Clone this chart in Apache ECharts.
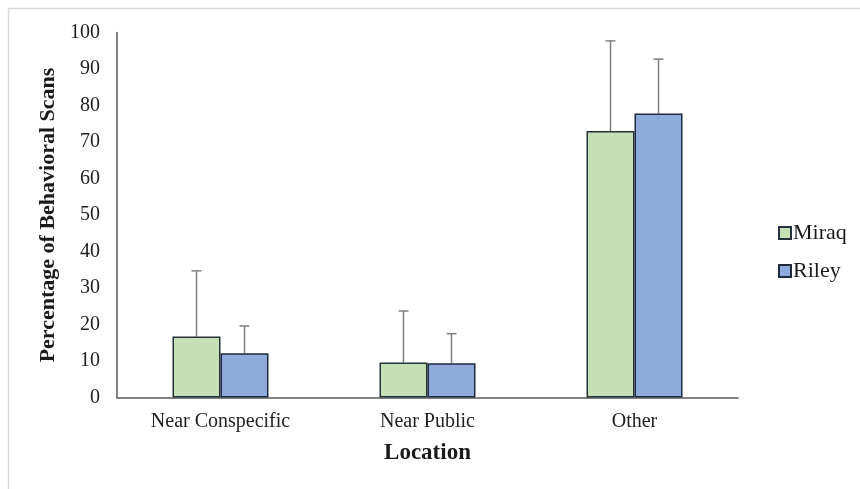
<!DOCTYPE html>
<html>
<head>
<meta charset="utf-8">
<script src="https://cdn.jsdelivr.net/npm/echarts@6/dist/echarts.min.js"></script>
<style>
  html, body { margin: 0; padding: 0; background: #fff; }
  #chart { width: 860px; height: 489px; }
</style>
</head>
<body>
<div id="chart"></div>
<script>
// Location categories and percentage of behavioral scans per animal
const categories = ['Near Conspecific', 'Near Public', 'Other'];
const miraqValues = [16.7, 9.6, 73.0];
const miraqErrors = [18.0, 14.1, 24.7];
const rileyValues = [12.1, 9.4, 77.8];
const rileyErrors = [7.5, 8.1, 14.9];
const yTicks = [0, 10, 20, 30, 40, 50, 60, 70, 80, 90, 100];

const FONT = '"Liberation Serif", "Times New Roman", serif';
const BAR_W = 48;

function errorSeries(name, values, errors, offset) {
  return {
    type: 'custom',
    name: name + ' error',
    silent: true,
    z: 1,
    data: values.map((v, i) => [i, v, v + errors[i]]),
    renderItem: function (params, api) {
      const base = api.coord([api.value(0), api.value(1)]);
      const top = api.coord([api.value(0), api.value(2)]);
      const x = base[0] + offset;
      const style = { stroke: '#7f7f7f', lineWidth: 1.5 };
      return {
        type: 'group',
        children: [
          { type: 'line', shape: { x1: x, y1: base[1], x2: x, y2: top[1] }, style },
          { type: 'line', shape: { x1: x - 5, y1: top[1], x2: x + 5, y2: top[1] }, style }
        ]
      };
    }
  };
}

const chart = echarts.init(document.getElementById('chart'), null, { renderer: 'canvas' });
chart.setOption({
  backgroundColor: '#ffffff',
  animation: false,
  textStyle: { fontFamily: FONT },
  graphic: [{
    type: 'rect',
    shape: { x: 8.5, y: 8.5, width: 900, height: 600 },
    style: { fill: 'none', stroke: '#d9d9d9', lineWidth: 1.5 },
    silent: true,
    z: -10
  }],
  grid: { left: 117, top: 32.5, width: 621, height: 365, containLabel: false },
  legend: {
    orient: 'vertical',
    left: 773,
    top: 217,
    itemWidth: 12,
    itemHeight: 12,
    itemGap: 16,
    icon: 'rect',
    textStyle: { fontFamily: FONT, fontSize: 22, color: '#1a1a1a', padding: [0, 0, 0, -3] },
    data: ['Miraq', 'Riley']
  },
  xAxis: {
    type: 'category',
    data: categories,
    name: 'Location',
    nameLocation: 'middle',
    nameGap: 44,
    nameTextStyle: { fontFamily: FONT, fontSize: 23, fontWeight: 'bold', color: '#1a1a1a' },
    axisLine: { lineStyle: { color: '#595959', width: 1.5 } },
    axisTick: { show: false },
    axisLabel: { fontFamily: FONT, fontSize: 20, color: '#222', margin: 14 }
  },
  yAxis: {
    type: 'value',
    min: yTicks[0],
    max: yTicks[yTicks.length - 1],
    interval: 10,
    name: 'Percentage of Behavioral Scans',
    nameLocation: 'middle',
    nameGap: 58,
    nameTextStyle: { fontFamily: FONT, fontSize: 22, fontWeight: 'bold', color: '#1a1a1a' },
    axisLine: { show: true, lineStyle: { color: '#595959', width: 1.5 } },
    axisTick: { show: false },
    splitLine: { show: false },
    axisLabel: { fontFamily: FONT, fontSize: 20, color: '#222', margin: 17 }
  },
  series: [
    {
      name: 'Miraq',
      type: 'bar',
      data: miraqValues,
      barWidth: BAR_W,
      barGap: '0%',
      z: 2,
      itemStyle: { color: '#c5e0b4', borderColor: '#27313b', borderWidth: 1.5 }
    },
    {
      name: 'Riley',
      type: 'bar',
      data: rileyValues,
      barWidth: BAR_W,
      barGap: '0%',
      z: 2,
      itemStyle: { color: '#8faadc', borderColor: '#1f2a3c', borderWidth: 1.5 }
    },
    errorSeries('Miraq', miraqValues, miraqErrors, -BAR_W / 2),
    errorSeries('Riley', rileyValues, rileyErrors, BAR_W / 2)
  ]
});
</script>
</body>
</html>
